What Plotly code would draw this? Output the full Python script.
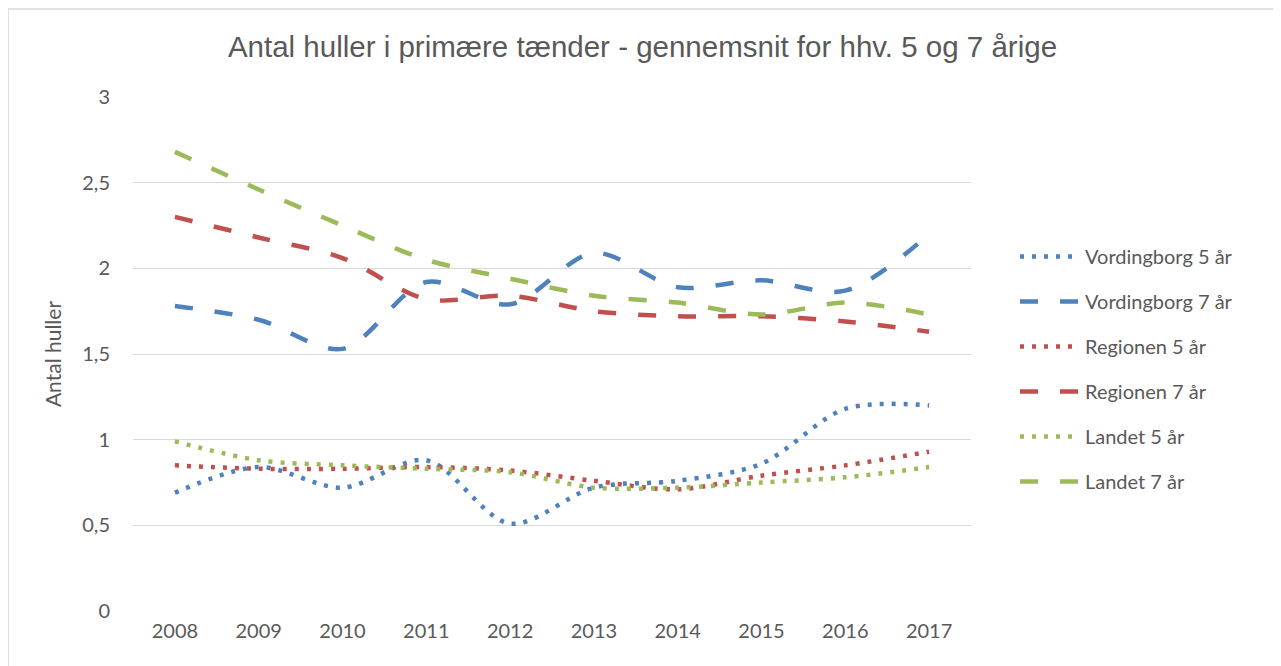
import plotly.graph_objects as go

years = ["2008", "2009", "2010", "2011", "2012", "2013", "2014", "2015", "2016", "2017"]
vord5 = [0.69, 0.84, 0.72, 0.88, 0.51, 0.72, 0.76, 0.86, 1.18, 1.20]
vord7 = [1.78, 1.70, 1.53, 1.92, 1.79, 2.09, 1.89, 1.93, 1.87, 2.20]
reg5 = [0.85, 0.83, 0.83, 0.84, 0.82, 0.76, 0.71, 0.79, 0.85, 0.93]
reg7 = [2.30, 2.18, 2.06, 1.82, 1.84, 1.75, 1.72, 1.72, 1.69, 1.63]
land5 = [0.99, 0.88, 0.85, 0.83, 0.81, 0.72, 0.72, 0.75, 0.78, 0.84]
land7 = [2.68, 2.46, 2.25, 2.05, 1.94, 1.84, 1.80, 1.73, 1.80, 1.73]
ytick_vals = [0, 0.5, 1, 1.5, 2, 2.5, 3]
ytick_text = ["0", "0,5", "1", "1,5", "2", "2,5", "3"]

BLUE = "#4F81BD"
RED = "#C0504D"
GREEN = "#9BBB59"
TXT = "#595959"
TFONT = "Liberation Sans"
FONT = "Lato"

series = [
    ("Vordingborg 5 år", vord5, BLUE, "dot"),
    ("Vordingborg 7 år", vord7, BLUE, "dash"),
    ("Regionen 5 år", reg5, RED, "dot"),
    ("Regionen 7 år", reg7, RED, "dash"),
    ("Landet 5 år", land5, GREEN, "dot"),
    ("Landet 7 år", land7, GREEN, "dash"),
]

fig = go.Figure()
for i, (name, vals, col, kind) in enumerate(series):
    dash = "4px,8px" if kind == "dot" else "18px,22px"
    fig.add_trace(go.Scatter(
        x=years, y=vals, name=name, mode="lines",
        line=dict(color=col, width=4.5, dash=dash, shape="spline", smoothing=0.9),
        legendgroup=f"g{i}",
    ))

# page body has an 8px margin; work in window pixels and convert
OFF = 8
W, H = 1281 - OFF, 666 - OFF
L, R, T, B = 133 - OFF, 1281 - 971, 97 - OFF, 666 - 611


def px(x):
    return (x - 133) / (971 - 133)


def py(y):
    return (611 - y) / (611 - 97)


fig.update_layout(
    width=W, height=H,
    margin=dict(l=L, r=R, t=T, b=B),
    paper_bgcolor="white", plot_bgcolor="white",
    font=dict(family=FONT, color=TXT, size=20),
    title=dict(text="Antal huller i primære tænder - gennemsnit for hhv. 5 og 7 årige",
               x=((230 + 1055) / 2 - OFF) / W, xanchor="center",
               y=1 - (47 - OFF) / H, yanchor="middle",
               font=dict(size=29.5, color=TXT, family=TFONT)),
    xaxis=dict(type="category", range=[-0.5, 9.5], showgrid=False, showline=False,
               ticks="", tickfont=dict(size=20, color=TXT, family=FONT), zeroline=False,
               ticklabelstandoff=6),
    yaxis=dict(range=[0, 3], tickvals=ytick_vals, ticktext=ytick_text,
               showgrid=True, gridcolor="#D9D9D9", gridwidth=1, zeroline=False,
               showline=False, ticks="", ticklabelstandoff=22,
               tickfont=dict(size=20, color=TXT, family=FONT),
               title=dict(text="Antal huller", font=dict(size=21, color=TXT, family=FONT),
                          standoff=14)),
    legend=dict(x=px(1015), xanchor="left", y=py(237), yanchor="top",
                font=dict(size=20, color=TXT, family=FONT), traceorder="grouped",
                tracegroupgap=16, itemwidth=60, bgcolor="rgba(0,0,0,0)"),
    shapes=[dict(type="rect", xref="paper", yref="paper",
                 x0=px(8), x1=px(1275), y0=py(680), y1=py(9),
                 line=dict(color="#D9D9D9", width=1.5), fillcolor="rgba(0,0,0,0)",
                 layer="below")],
)

fig.write_html("out.html")
